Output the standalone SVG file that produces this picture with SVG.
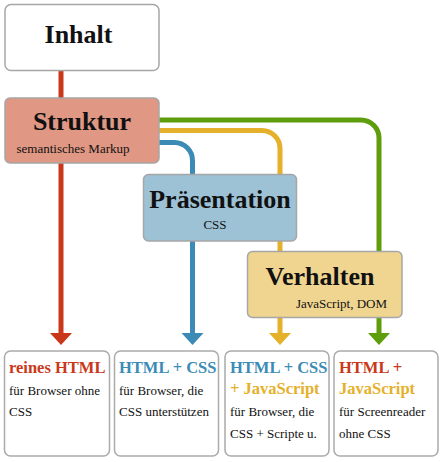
<svg xmlns="http://www.w3.org/2000/svg" width="448" height="462" viewBox="0 0 448 462">
<style>
.t{font-family:"Liberation Serif","Times New Roman",serif;fill:#111}
.big{font-size:26px;font-weight:bold}
.sm{font-size:13px}
.h{font-size:16.5px;font-weight:bold}
.box{stroke:#a6a6a6;stroke-width:1.5}
.res{fill:#fff;stroke:#aaa;stroke-width:1.5}
.ln{fill:none;stroke-width:5}
</style>
<rect width="448" height="462" fill="#fff"/>
<g id="connectors">
<path class="ln" stroke="#c9381a" d="M61 70V334"/>
<path class="ln" stroke="#3b8bb6" d="M150 142.5H174.5A18 18 0 0 1 192.5 160.5V334"/>
<path class="ln" stroke="#e5b02a" d="M150 130.5H262A18 18 0 0 1 280 148.5V334"/>
<path class="ln" stroke="#5e9e0c" d="M150 120H361A18 18 0 0 1 379 138V334"/>
<polygon fill="#c9381a" points="50,333 72,333 61,345"/>
<polygon fill="#3b8bb6" points="181.5,333 203.5,333 192.5,345"/>
<polygon fill="#e5b02a" points="269,333 291,333 280,345"/>
<polygon fill="#5e9e0c" points="368,333 390,333 379,345"/>
</g>
<g id="inhalt">
<rect class="box" x="5" y="4.5" width="154" height="66" rx="6" fill="#fff" stroke="#bbb"/>
<text class="t big" x="78.5" y="43" text-anchor="middle">Inhalt</text>
</g>
<g id="struktur">
<rect class="box" x="5" y="98" width="154" height="65" rx="5" fill="#e09783"/>
<text class="t big" x="82" y="130" text-anchor="middle">Struktur</text>
<text class="t sm" x="73" y="153" text-anchor="middle">semantisches Markup</text>
</g>
<g id="praesentation">
<rect class="box" x="143.5" y="174.5" width="153" height="66.5" rx="5" fill="#9dc1d5"/>
<text class="t big" x="220" y="208" text-anchor="middle">Präsentation</text>
<text class="t sm" x="215" y="229" text-anchor="middle">CSS</text>
</g>
<g id="verhalten">
<rect class="box" x="247.5" y="251.5" width="154.5" height="66" rx="5" fill="#f0d591"/>
<text class="t big" x="320" y="284.5" text-anchor="middle">Verhalten</text>
<text class="t sm" x="387" y="308" text-anchor="end">JavaScript, DOM</text>
</g>
<g id="reines-html">
<rect class="res" x="4.5" y="351" width="105" height="105" rx="6"/>
<text class="t h" x="9" y="373" fill="#c9381a" style="fill:#c9381a">reines HTML</text>
<text class="t sm" x="9" y="395">für Browser ohne</text>
<text class="t sm" x="9" y="416">CSS</text>
</g>
<g id="html-css">
<rect class="res" x="114.5" y="351" width="104" height="105" rx="6"/>
<text class="t h" x="119" y="373" style="fill:#3b8bb6">HTML + CSS</text>
<text class="t sm" x="119" y="395">für Browser, die</text>
<text class="t sm" x="119" y="416">CSS unterstützen</text>
</g>
<g id="html-css-js">
<rect class="res" x="225" y="351" width="104" height="105" rx="6"/>
<text class="t h" x="230" y="373" style="fill:#3b8bb6">HTML + CSS</text>
<text class="t h" x="230" y="394" style="fill:#e5b02a">+ JavaScript</text>
<text class="t sm" x="230" y="416">für Browser, die</text>
<text class="t sm" x="230" y="438">CSS + Scripte u.</text>
</g>
<g id="html-js">
<rect class="res" x="334" y="351" width="104" height="105" rx="6"/>
<text class="t h" x="339" y="373" style="fill:#c9381a">HTML +</text>
<text class="t h" x="339" y="394" style="fill:#e5b02a">JavaScript</text>
<text class="t sm" x="339" y="416">für Screenreader</text>
<text class="t sm" x="339" y="438">ohne CSS</text>
</g>
</svg>
